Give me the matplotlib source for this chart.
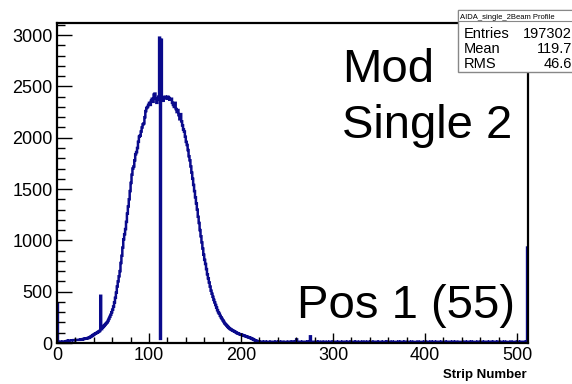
import numpy as np
import matplotlib
matplotlib.use("Agg")
import matplotlib.pyplot as plt
from matplotlib.patches import Rectangle
from matplotlib.ticker import MultipleLocator

plt.rcParams['font.family'] = ['Liberation Sans', 'DejaVu Sans']

# Counts per strip 0..220
counts_core = [
    380, 5, 8, 10, 12, 12, 14, 15, 15, 16,
    18, 20, 22, 24, 25, 25, 26, 27, 28, 28,
    30, 30, 29, 30, 31, 32, 34, 36, 38, 40,
    42, 44, 46, 48, 50, 55, 60, 66, 72, 78,
    84, 90, 95, 100, 106, 112, 118, 460, 135, 150,
    158, 170, 180, 190, 200, 215, 235, 255, 275, 300,
    325, 355, 395, 440, 490, 550, 600, 650, 700, 780,
    850, 930, 1010, 1060, 1110, 1180, 1260, 1330, 1400, 1480,
    1560, 1640, 1700, 1720, 1780, 1840, 1860, 1900, 1960, 2010,
    2020, 2060, 2100, 2130, 2140, 2200, 2260, 2290, 2300, 2320,
    2340, 2320, 2360, 2380, 2350, 2420, 2430, 2380, 2340, 2370,
    2400, 2975, 40, 2955, 2380, 2360, 2390, 2400, 2390, 2380,
    2400, 2390, 2370, 2380, 2380, 2340, 2320, 2300, 2340, 2280,
    2250, 2270, 2220, 2180, 2230, 2160, 2120, 2080, 2060, 2010,
    1960, 1930, 1880, 1820, 1780, 1720, 1660, 1600, 1540, 1480,
    1420, 1360, 1300, 1230, 1170, 1100, 1040, 980, 920, 860,
    810, 770, 720, 670, 630, 590, 550, 510, 480, 450,
    420, 395, 370, 345, 320, 300, 285, 265, 250, 235,
    220, 205, 190, 180, 170, 160, 150, 143, 136, 130,
    125, 120, 115, 110, 104, 98, 94, 90, 86, 84,
    80, 78, 75, 72, 68, 65, 62, 58, 55, 52,
    48, 44, 40, 35, 30, 26, 22, 19, 16, 14, 12,
]

# Counts per strip 221..511
counts_tail = [
    12, 11, 13, 10, 12, 11, 10, 12, 13, 11, 10, 12, 11, 13, 12, 10, 11, 12, 10, 11,
    12, 10, 11, 13, 12, 11, 10, 12, 11, 10, 13, 12, 11, 10, 12, 14, 11, 12, 13, 35,
    12, 11, 13, 12, 10, 11, 12, 13, 11, 12, 10, 12, 11, 14, 65, 12, 11, 13, 12, 10,
    11, 12, 10, 13, 12, 11, 12, 10, 11, 13, 12, 11, 10, 12, 11, 13, 12, 10, 11, 12,
    13, 11, 12, 10, 11, 12, 13, 11, 10, 12, 11, 12, 13, 10, 11, 12, 11, 10, 12, 13,
    11, 12, 10, 11, 13, 12, 11, 10, 12, 11, 12, 13, 11, 10, 12, 11, 13, 12, 10, 11,
    12, 11, 10, 12, 13, 11, 12, 10, 11, 12, 13, 11, 10, 12, 11, 12, 10, 13, 11, 12,
    10, 11, 12, 13, 11, 12, 10, 11, 12, 11, 13, 10, 12, 11, 12, 10, 11, 13, 12, 11,
    12, 10, 11, 12, 13, 11, 10, 12, 11, 12, 10, 13, 11, 12, 11, 10, 12, 11, 13, 12,
    11, 10, 12, 11, 12, 13, 10, 11, 12, 11, 10, 12, 13, 11, 12, 10, 11, 12, 11, 13,
    12, 10, 11, 12, 11, 13, 12, 10, 11, 12, 10, 11, 13, 12, 11, 10, 12, 11, 12, 10,
    11, 13, 12, 10, 11, 12, 11, 12, 10, 13, 11, 12, 11, 10, 12, 11, 13, 12, 10, 11,
    12, 11, 10, 12, 13, 11, 12, 10, 11, 12, 11, 13, 10, 12, 11, 12, 10, 11, 13, 12,
    11, 12, 10, 11, 12, 13, 11, 10, 12, 11, 12, 10, 13, 11, 12, 11, 10, 12, 11, 13,
    12, 10, 11, 12, 11, 13, 12, 10, 11, 12, 930,
]

counts = np.array(counts_core + counts_tail, dtype=float)
edges = np.arange(len(counts) + 1)

hist_name = "AIDA_single_2Beam Profile"
stat_labels = ["Entries", "Mean", "RMS"]
stat_values = ["197302", "119.7", "46.6"]
x_label = "Strip Number"
texts = ["Mod", "Single 2", "Pos 1 (55)"]

W, H = 572, 384
fig = plt.figure(figsize=(W / 100, H / 100), dpi=100)
fig.patch.set_facecolor('white')

def fx(px):
    return px / W

def fy(py):
    return 1 - py / H

ax = fig.add_axes([fx(57), fy(343), fx(528) - fx(57), fy(23) - fy(343)])
ax.stairs(counts, edges, baseline=0, fill=False, color='#0a0a8c', linewidth=1.8)
ax.set_xlim(0, 512)
ax.set_ylim(0, 3118)

ax.xaxis.set_major_locator(MultipleLocator(100))
ax.xaxis.set_minor_locator(MultipleLocator(20))
ax.yaxis.set_major_locator(MultipleLocator(500))
ax.yaxis.set_minor_locator(MultipleLocator(100))
ax.tick_params(axis='x', which='major', direction='in', length=7, width=1, pad=3, labelsize=13, top=False)
ax.tick_params(axis='x', which='minor', direction='in', length=4, width=1, top=False)
ax.tick_params(axis='y', which='major', direction='in', length=11, width=1, pad=3, labelsize=13, right=False)
ax.tick_params(axis='y', which='minor', direction='in', length=6, width=1, right=False)
for sp in ax.spines.values():
    sp.set_linewidth(1.6)
    sp.set_color('black')

fig.text(fx(527), fy(378), x_label, ha='right', va='baseline', fontsize=9.5, fontweight='bold')

fig.text(fx(342), fy(82), texts[0], ha='left', va='baseline', fontsize=34)
fig.text(fx(342), fy(138), texts[1], ha='left', va='baseline', fontsize=34)
fig.text(fx(297), fy(318), texts[2], ha='left', va='baseline', fontsize=34)

# stats box
bx0, by0, bx1, by1 = 458, 10, 576, 72
fig.patches.append(Rectangle((fx(bx0), fy(by1)), fx(bx1) - fx(bx0), fy(by0) - fy(by1),
                             transform=fig.transFigure, facecolor='white',
                             edgecolor='#888888', linewidth=1.0, zorder=5))
fig.patches.append(Rectangle((fx(bx0), fy(21)), fx(bx1) - fx(bx0), fy(by0) - fy(21),
                             transform=fig.transFigure, facecolor='white',
                             edgecolor='#888888', linewidth=0.8, zorder=6))
fig.text(fx(460), fy(19), hist_name, ha='left', va='baseline', fontsize=5.5, zorder=7)
rows_y = [38, 53, 68]
for lab, val, yy in zip(stat_labels, stat_values, rows_y):
    fig.text(fx(464), fy(yy), lab, ha='left', va='baseline', fontsize=10.5, zorder=7)
    fig.text(fx(572), fy(yy), val, ha='right', va='baseline', fontsize=10.5, zorder=7)

fig.savefig("out.png", dpi=100)
